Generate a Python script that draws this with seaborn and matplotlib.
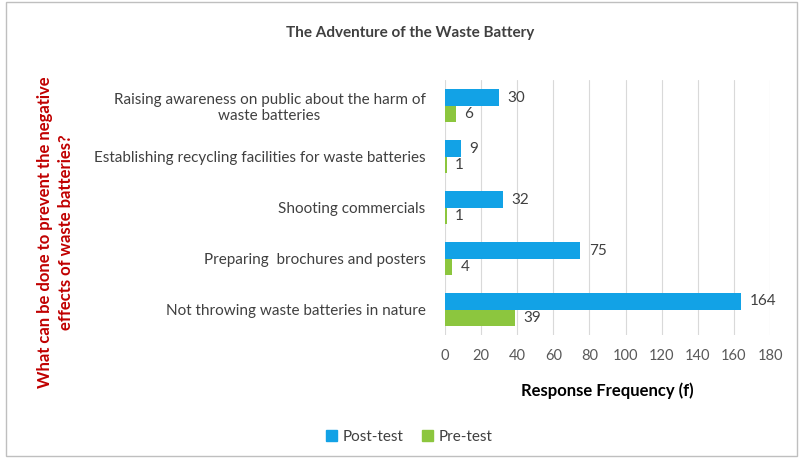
import pandas as pd
import seaborn as sns
import matplotlib.pyplot as plt
from matplotlib.patches import Rectangle

categories = ['Raising awareness on public about the harm of\nwaste batteries',
              'Establishing recycling facilities for waste batteries',
              'Shooting commercials',
              'Preparing  brochures and posters',
              'Not throwing waste batteries in nature']
post_test = [30, 9, 32, 75, 164]
pre_test = [6, 1, 1, 4, 39]
series = ['Post-test', 'Pre-test']
colors = ['#12A2E6', '#8CC63E']

df = pd.DataFrame({
    'item': categories * 2,
    'value': post_test + pre_test,
    'test': [series[0]] * 5 + [series[1]] * 5,
})

sns.set_style('white')
plt.rcParams['font.family'] = ['Lato', 'DejaVu Sans']

fig = plt.figure(figsize=(8.03, 4.61), dpi=100)
ax = fig.add_axes([0.554, 0.273, 0.405, 0.553])

sns.barplot(data=df, y='item', x='value', hue='test', orient='h',
            palette=colors, saturation=1, width=0.64, gap=0.0, ax=ax,
            edgecolor='none')

# value labels
for cont in ax.containers:
    ax.bar_label(cont, padding=6, fontsize=11, color='#404040')

ax.set_xlim(0, 180)
ax.set_xticks(range(0, 181, 20))
ax.xaxis.grid(True, color='#D9D9D9', linewidth=0.8)
ax.set_axisbelow(True)
for s in ax.spines.values():
    s.set_visible(False)
ax.tick_params(axis='x', length=0, labelsize=10.5, labelcolor='#595959', pad=10)
ax.tick_params(axis='y', length=0, labelsize=11, labelcolor='#404040', pad=14)
for lab in ax.get_yticklabels():
    lab.set_multialignment('center')

ax.set_xlabel('Response Frequency (f)', fontsize=12, fontweight='bold',
              color='black', labelpad=14)
ax.set_ylabel('')

fig.text(0.511, 0.928, 'The Adventure of the Waste Battery', ha='center', va='center',
         fontsize=11, fontweight='bold', color='#404040')
fig.text(0.069, 0.497, 'What can be done to prevent the negative\neffects of waste batteries?',
         rotation=90, ha='center', va='center', multialignment='center',
         linespacing=1.35, fontsize=12, fontweight='bold', color='#C00000')

ax.legend_.remove()
handles = [Rectangle((0, 0), 1, 1, color=c) for c in colors]
fig.legend(handles, series, loc='center', bbox_to_anchor=(0.51, 0.052), ncol=2,
           frameon=False, fontsize=11, handlelength=0.7, handleheight=0.7,
           columnspacing=1.2, handletextpad=0.4, labelcolor='#404040')

fig.patches.append(Rectangle((0.008, 0.01), 0.985, 0.985, transform=fig.transFigure,
                             fill=False, edgecolor='#BFBFBF', linewidth=1))

fig.savefig('out.png', dpi=100)
